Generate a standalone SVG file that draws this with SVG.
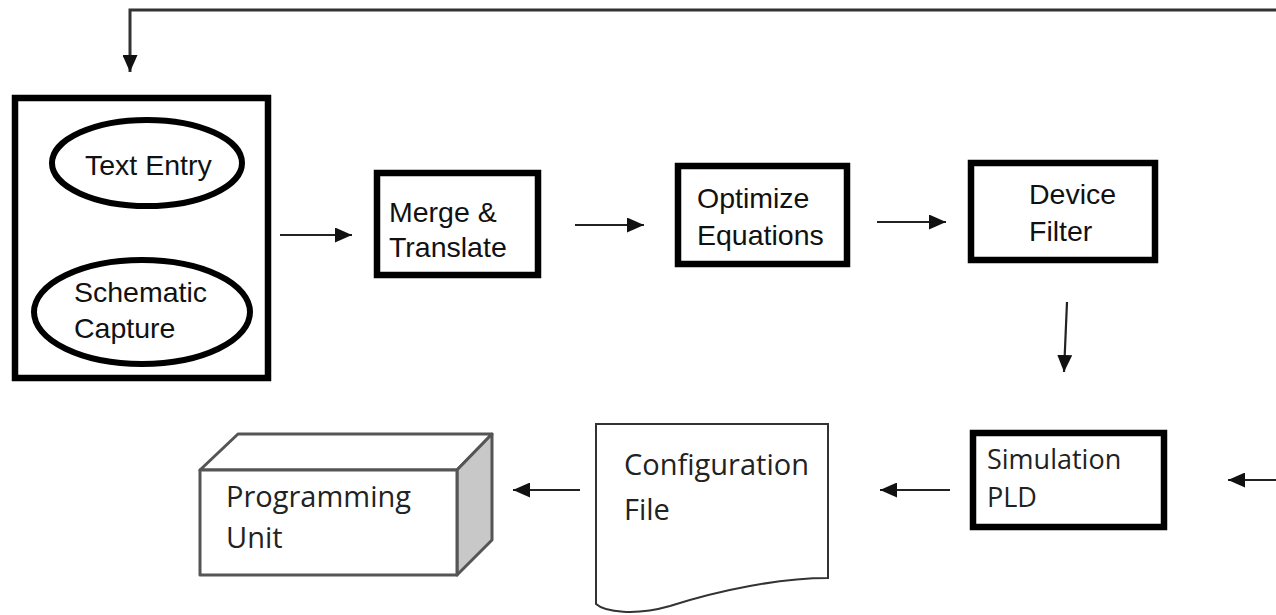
<svg xmlns="http://www.w3.org/2000/svg" width="1276" height="615" viewBox="0 0 1276 615">
  <style>
    .box { fill: #fff; stroke: #000; stroke-width: 6.5; }
    .oval { fill: #fff; stroke: #000; stroke-width: 6; }
    .lbl { font-family: "Liberation Sans", Arial, sans-serif; font-size: 28.5px; fill: #111; }
    .lbl2 { font-family: "Open Sans", "Noto Sans", sans-serif; font-size: 29px; fill: #222; }
    .lbl3 { font-family: "Open Sans", "Noto Sans", sans-serif; font-size: 27px; fill: #222; }
    .conn { fill: none; stroke: #222; stroke-width: 2.2; }
    .feedback { fill: none; stroke: #333; stroke-width: 3; }
    .shape3d { stroke: #555; stroke-width: 3; stroke-linejoin: round; }
  </style>
  <defs>
    <marker id="arrowL" viewBox="0 0 10 10" refX="10" refY="5" markerWidth="17" markerHeight="15" markerUnits="userSpaceOnUse" orient="auto" preserveAspectRatio="none">
      <path d="M0,0 L10,5 L0,10 Z" fill="#111"/>
    </marker>
  </defs>
  <rect width="1276" height="615" fill="#fff"/>

  <g id="connectors">
    <path class="feedback" d="M1276,10 H130 V72" marker-end="url(#arrowL)"/>
    <path class="conn" d="M280,235 H352" marker-end="url(#arrowL)"/>
    <path class="conn" d="M575,225 H644" marker-end="url(#arrowL)"/>
    <path class="conn" d="M877,222 H946" marker-end="url(#arrowL)"/>
    <path class="conn" d="M1067,302 L1064,372" marker-end="url(#arrowL)"/>
    <path class="conn" d="M1276,480 H1228" marker-end="url(#arrowL)"/>
    <path class="conn" d="M950,490 H880" marker-end="url(#arrowL)"/>
    <path class="conn" d="M580,490 H513" marker-end="url(#arrowL)"/>
  </g>

  <g id="design-entry">
    <rect class="box" x="15" y="98" width="253" height="280"/>
    <g id="text-entry">
      <ellipse class="oval" cx="147" cy="163" rx="95" ry="43"/>
      <text class="lbl" x="85" y="175">Text Entry</text>
    </g>
    <g id="schematic-capture">
      <ellipse class="oval" cx="142" cy="312" rx="108" ry="52"/>
      <text class="lbl" x="74" y="302">Schematic</text>
      <text class="lbl" x="74" y="338">Capture</text>
    </g>
  </g>

  <g id="merge-translate">
    <rect class="box" x="377" y="173" width="161" height="102"/>
    <text class="lbl" x="389" y="222">Merge &amp;</text>
    <text class="lbl" x="389" y="257">Translate</text>
  </g>

  <g id="optimize-equations">
    <rect class="box" x="678" y="166" width="169" height="98"/>
    <text class="lbl" x="697" y="208">Optimize</text>
    <text class="lbl" x="697" y="245">Equations</text>
  </g>

  <g id="device-filter">
    <rect class="box" x="971" y="163" width="184" height="97" stroke-width="7"/>
    <text class="lbl" x="1029" y="204">Device</text>
    <text class="lbl" x="1029" y="241">Filter</text>
  </g>

  <g id="simulation-pld">
    <rect class="box" x="973" y="433" width="191" height="94"/>
    <text class="lbl3" x="987" y="469">Simulation</text>
    <text class="lbl3" x="987" y="507">PLD</text>
  </g>

  <g id="configuration-file">
    <path d="M596,424 H828 V578 C780,578 720,590 670,606 C635,616 605,612 596,604 Z" fill="#fff" stroke="#333" stroke-width="2"/>
    <text class="lbl2" x="624" y="475">Configuration</text>
    <text class="lbl2" x="624" y="520">File</text>
  </g>

  <g id="programming-unit">
    <path class="shape3d" d="M200,470 L238,434 H492 L457,470 Z" fill="#fff"/>
    <path class="shape3d" d="M457,470 L492,434 V540 L457,575 Z" fill="#c8c8c8"/>
    <rect class="shape3d" x="200" y="470" width="257" height="105" fill="#fff"/>
    <text class="lbl2" x="226" y="507">Programming</text>
    <text class="lbl2" x="226" y="548">Unit</text>
  </g>
</svg>
